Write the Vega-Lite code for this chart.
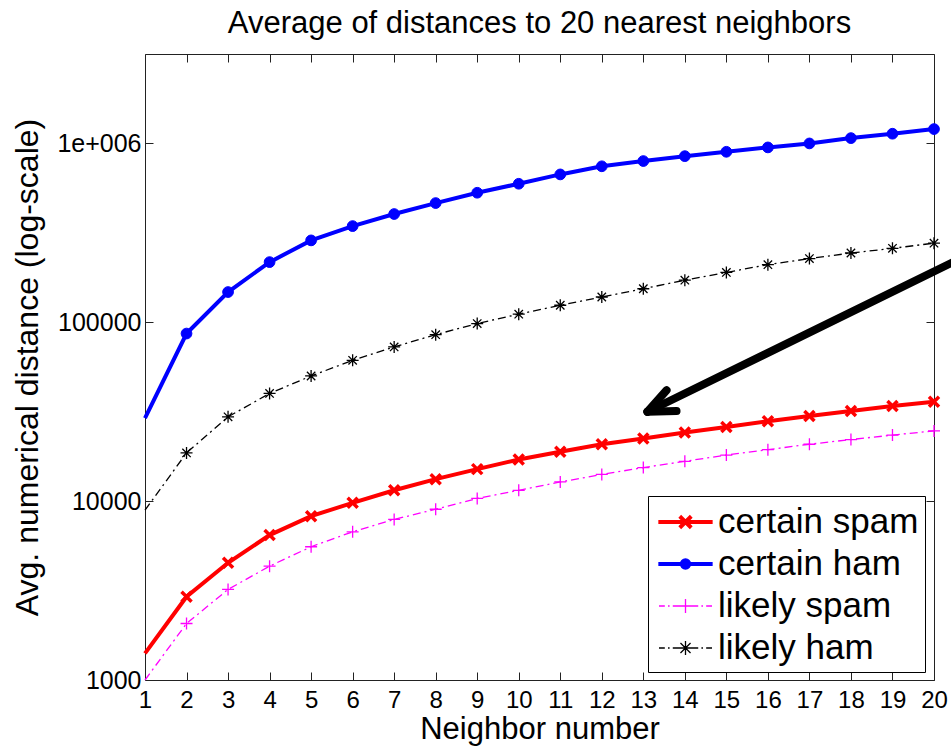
{
  "$schema": "https://vega.github.io/schema/vega-lite/v6.json",
  "autosize": {"type": "none"},
  "padding": {"left": 145, "top": 54, "right": 17, "bottom": 66},
  "width": 789,
  "height": 626,
  "background": "#ffffff",
  "title": {"text": "Average of distances to 20 nearest neighbors", "fontSize": 31, "font": "Liberation Sans", "fontWeight": "normal", "color": "#000000", "anchor": "middle", "offset": 14},
  "datasets": {
    "d": [
      {"n": 1, "series": "certain spam", "v": 1410}, {"n": 2, "series": "certain spam", "v": 2920}, {"n": 3, "series": "certain spam", "v": 4520}, {"n": 4, "series": "certain spam", "v": 6460}, {"n": 5, "series": "certain spam", "v": 8240}, {"n": 6, "series": "certain spam", "v": 9790}, {"n": 7, "series": "certain spam", "v": 11500}, {"n": 8, "series": "certain spam", "v": 13270}, {"n": 9, "series": "certain spam", "v": 15100}, {"n": 10, "series": "certain spam", "v": 17100}, {"n": 11, "series": "certain spam", "v": 18900}, {"n": 12, "series": "certain spam", "v": 20800}, {"n": 13, "series": "certain spam", "v": 22400}, {"n": 14, "series": "certain spam", "v": 24200}, {"n": 15, "series": "certain spam", "v": 26000}, {"n": 16, "series": "certain spam", "v": 28000}, {"n": 17, "series": "certain spam", "v": 29900}, {"n": 18, "series": "certain spam", "v": 31900}, {"n": 19, "series": "certain spam", "v": 34000}, {"n": 20, "series": "certain spam", "v": 35900},
      {"n": 1, "series": "certain ham", "v": 29100}, {"n": 2, "series": "certain ham", "v": 86500}, {"n": 3, "series": "certain ham", "v": 147600}, {"n": 4, "series": "certain ham", "v": 217000}, {"n": 5, "series": "certain ham", "v": 287000}, {"n": 6, "series": "certain ham", "v": 345000}, {"n": 7, "series": "certain ham", "v": 403000}, {"n": 8, "series": "certain ham", "v": 464000}, {"n": 9, "series": "certain ham", "v": 530000}, {"n": 10, "series": "certain ham", "v": 595000}, {"n": 11, "series": "certain ham", "v": 671000}, {"n": 12, "series": "certain ham", "v": 745000}, {"n": 13, "series": "certain ham", "v": 797000}, {"n": 14, "series": "certain ham", "v": 849000}, {"n": 15, "series": "certain ham", "v": 898000}, {"n": 16, "series": "certain ham", "v": 950000}, {"n": 17, "series": "certain ham", "v": 1000000}, {"n": 18, "series": "certain ham", "v": 1071000}, {"n": 19, "series": "certain ham", "v": 1133000}, {"n": 20, "series": "certain ham", "v": 1203000},
      {"n": 1, "series": "likely spam", "v": 1000}, {"n": 2, "series": "likely spam", "v": 2070}, {"n": 3, "series": "likely spam", "v": 3210}, {"n": 4, "series": "likely spam", "v": 4330}, {"n": 5, "series": "likely spam", "v": 5560}, {"n": 6, "series": "likely spam", "v": 6740}, {"n": 7, "series": "likely spam", "v": 7900}, {"n": 8, "series": "likely spam", "v": 9010}, {"n": 9, "series": "likely spam", "v": 10350}, {"n": 10, "series": "likely spam", "v": 11500}, {"n": 11, "series": "likely spam", "v": 12800}, {"n": 12, "series": "likely spam", "v": 14100}, {"n": 13, "series": "likely spam", "v": 15400}, {"n": 14, "series": "likely spam", "v": 16700}, {"n": 15, "series": "likely spam", "v": 18100}, {"n": 16, "series": "likely spam", "v": 19400}, {"n": 17, "series": "likely spam", "v": 20800}, {"n": 18, "series": "likely spam", "v": 22100}, {"n": 19, "series": "likely spam", "v": 23400}, {"n": 20, "series": "likely spam", "v": 24700},
      {"n": 1, "series": "likely ham", "v": 8900}, {"n": 2, "series": "likely ham", "v": 18600}, {"n": 3, "series": "likely ham", "v": 29600}, {"n": 4, "series": "likely ham", "v": 40000}, {"n": 5, "series": "likely ham", "v": 50100}, {"n": 6, "series": "likely ham", "v": 61300}, {"n": 7, "series": "likely ham", "v": 72800}, {"n": 8, "series": "likely ham", "v": 85300}, {"n": 9, "series": "likely ham", "v": 98400}, {"n": 10, "series": "likely ham", "v": 111000}, {"n": 11, "series": "likely ham", "v": 124500}, {"n": 12, "series": "likely ham", "v": 138500}, {"n": 13, "series": "likely ham", "v": 154000}, {"n": 14, "series": "likely ham", "v": 172000}, {"n": 15, "series": "likely ham", "v": 190000}, {"n": 16, "series": "likely ham", "v": 210000}, {"n": 17, "series": "likely ham", "v": 227000}, {"n": 18, "series": "likely ham", "v": 244000}, {"n": 19, "series": "likely ham", "v": 259000}, {"n": 20, "series": "likely ham", "v": 277000}
    ],
    "arrow": [
      {"part": "shaft", "x": 13.1, "y": 31600, "x2": 20.6, "y2": 225000},
      {"part": "barb1", "x": 13.1, "y": 31600, "x2": 13.56, "y2": 41700},
      {"part": "barb2", "x": 13.1, "y": 31600, "x2": 13.8, "y2": 31900}
    ]
  },
  "resolve": {"axis": {"x": "independent", "y": "independent"}},
  "layer": [
    {
      "data": {"name": "d"},
      "transform": [{"filter": "indexof(datum.series, 'certain') == 0"}],
      "mark": {"type": "line", "strokeWidth": 4, "clip": false},
      "encoding": {
        "x": {"field": "n", "type": "quantitative", "scale": {"domain": [1, 20], "nice": false, "zero": false},
          "axis": {"orient": "bottom", "values": [1,2,3,4,5,6,7,8,9,10,11,12,13,14,15,16,17,18,19,20], "tickSize": -8, "labelPadding": 16, "labelFontSize": 24, "labelFlush": false, "labelOverlap": false, "labelBound": false, "domain": false, "grid": false,
            "title": "Neighbor number", "titleFontSize": 31, "titlePadding": 2}},
        "y": {"field": "v", "type": "quantitative", "scale": {"type": "log", "domain": [1000, 3162277.66], "nice": false},
          "axis": {"orient": "left", "values": [1000, 10000, 100000, 1000000], "labelExpr": "datum.value == 1000000 ? '1e+006' : format(datum.value, 'd')", "tickSize": -8, "labelPadding": 12, "labelFontSize": 25, "labelFlush": false, "labelOverlap": false, "labelBound": false, "domain": false, "grid": false,
            "title": "Avg. numerical distance (log-scale)", "titleFontSize": 32, "titlePadding": 12}},
        "color": {"field": "series", "type": "nominal", "scale": {"domain": ["certain ham", "certain spam", "likely ham", "likely spam"], "range": ["#0000ff", "#ff0000", "#000000", "#ff00ff"]}, "legend": null},
        "detail": {"field": "series"}
      }
    },
    {
      "data": {"name": "d"},
      "transform": [{"filter": "indexof(datum.series, 'likely') == 0"}],
      "mark": {"type": "line", "strokeWidth": 1.3, "strokeDash": [8, 4, 2, 4], "clip": false},
      "encoding": {
        "x": {"field": "n", "type": "quantitative", "scale": {"domain": [1, 20], "nice": false, "zero": false},
          "axis": {"orient": "top", "values": [1,2,3,4,5,6,7,8,9,10,11,12,13,14,15,16,17,18,19,20], "tickSize": -8, "labels": false, "domain": false, "grid": false, "title": null}},
        "y": {"field": "v", "type": "quantitative", "scale": {"type": "log", "domain": [1000, 3162277.66], "nice": false},
          "axis": {"orient": "right", "values": [1000, 10000, 100000, 1000000], "tickSize": -8, "labels": false, "domain": false, "grid": false, "title": null}},
        "color": {"field": "series", "type": "nominal", "scale": {"domain": ["certain ham", "certain spam", "likely ham", "likely spam"], "range": ["#0000ff", "#ff0000", "#000000", "#ff00ff"]}, "legend": null},
        "detail": {"field": "series"}
      }
    },
    {
      "data": {"name": "d"},
      "transform": [{"filter": "datum.series == 'certain spam' && datum.n > 1"}],
      "mark": {"type": "point", "shape": "M-1,-1L1,1M-1,1L1,-1", "size": 100, "filled": false, "stroke": "#ff0000", "strokeWidth": 3.5, "opacity": 1, "clip": false},
      "encoding": {
        "x": {"field": "n", "type": "quantitative", "scale": {"domain": [1, 20], "nice": false, "zero": false}, "axis": null},
        "y": {"field": "v", "type": "quantitative", "scale": {"type": "log", "domain": [1000, 3162277.66], "nice": false}, "axis": null}
      }
    },
    {
      "data": {"name": "d"},
      "transform": [{"filter": "datum.series == 'certain ham' && datum.n > 1"}],
      "mark": {"type": "point", "shape": "circle", "size": 115, "filled": true, "fill": "#0000ff", "stroke": "#0000ff", "strokeWidth": 1, "opacity": 1, "clip": false},
      "encoding": {
        "x": {"field": "n", "type": "quantitative", "scale": {"domain": [1, 20], "nice": false, "zero": false}, "axis": null},
        "y": {"field": "v", "type": "quantitative", "scale": {"type": "log", "domain": [1000, 3162277.66], "nice": false}, "axis": null}
      }
    },
    {
      "data": {"name": "d"},
      "transform": [{"filter": "datum.series == 'likely spam' && datum.n > 1"}],
      "mark": {"type": "point", "shape": "M-1,0H1M0,-1V1", "size": 144, "filled": false, "stroke": "#ff00ff", "strokeWidth": 1.3, "opacity": 1, "clip": false},
      "encoding": {
        "x": {"field": "n", "type": "quantitative", "scale": {"domain": [1, 20], "nice": false, "zero": false}, "axis": null},
        "y": {"field": "v", "type": "quantitative", "scale": {"type": "log", "domain": [1000, 3162277.66], "nice": false}, "axis": null}
      }
    },
    {
      "data": {"name": "d"},
      "transform": [{"filter": "datum.series == 'likely ham' && datum.n > 1"}],
      "mark": {"type": "point", "shape": "M-1,0H1M0,-1V1M-0.7,-0.7L0.7,0.7M-0.7,0.7L0.7,-0.7", "size": 144, "filled": false, "stroke": "#000000", "strokeWidth": 1.3, "opacity": 1, "clip": false},
      "encoding": {
        "x": {"field": "n", "type": "quantitative", "scale": {"domain": [1, 20], "nice": false, "zero": false}, "axis": null},
        "y": {"field": "v", "type": "quantitative", "scale": {"type": "log", "domain": [1000, 3162277.66], "nice": false}, "axis": null}
      }
    },
    {
      "data": {"name": "d"},
      "mark": {"type": "point", "filled": true, "opacity": 1, "strokeWidth": 1.3, "size": 0},
      "encoding": {
        "x": {"field": "n", "type": "quantitative", "scale": {"domain": [1, 20], "nice": false, "zero": false}, "axis": null},
        "y": {"field": "v", "type": "quantitative", "scale": {"type": "log", "domain": [1000, 3162277.66], "nice": false}, "axis": null},
        "fill": {"field": "series", "type": "nominal", "scale": {"domain": ["certain spam", "certain ham", "likely spam", "likely ham"], "range": ["#ff0000", "#0000ff", "#ff00ff", "#000000"]}, "legend": {"title": null}},
        "stroke": {"field": "series", "type": "nominal", "scale": {"domain": ["certain spam", "certain ham", "likely spam", "likely ham"], "range": ["#ff0000", "#0000ff", "#ff00ff", "#000000"]}, "legend": {"title": null}},
        "shape": {"field": "series", "type": "nominal", "scale": {"domain": ["certain spam", "certain ham", "likely spam", "likely ham"], "range": [
          "M-1.395,-0.07H1.395V0.07H-1.395ZM-0.23,-0.328L0.328,0.23L0.23,0.328L-0.328,-0.23ZM-0.23,0.328L0.328,-0.23L0.23,-0.328L-0.328,0.23Z",
          "M-1.395,-0.07H1.395V0.07H-1.395ZM0.265,0A0.265,0.265,0,1,1,-0.265,0A0.265,0.265,0,1,1,0.265,0Z",
          "M-1.395,0H-1.088M-0.921,0H-0.837M-0.67,0H0.67M0.837,0H0.921M1.088,0H1.395M0,-0.363V0.363",
          "M-1.395,0H-1.088M-0.921,0H-0.837M-0.67,0H0.67M0.837,0H0.921M1.088,0H1.395M0,-0.363V0.363M-0.265,-0.265L0.265,0.265M-0.265,0.265L0.265,-0.265"
        ]}, "legend": {"title": null}}
      }
    },
    {
      "data": {"name": "arrow"},
      "mark": {"type": "rule", "color": "#000000", "strokeWidth": 8, "strokeCap": "round", "clip": false},
      "encoding": {
        "x": {"field": "x", "type": "quantitative", "scale": {"domain": [1, 20], "nice": false, "zero": false}, "axis": null},
        "y": {"field": "y", "type": "quantitative", "scale": {"type": "log", "domain": [1000, 3162277.66], "nice": false}, "axis": null},
        "x2": {"field": "x2"},
        "y2": {"field": "y2"}
      }
    }
  ],
  "config": {
    "font": "Liberation Sans",
    "view": {"stroke": "#222222", "strokeWidth": 1},
    "axis": {"labelFont": "Liberation Sans", "titleFont": "Liberation Sans", "labelColor": "#000000", "titleColor": "#000000", "tickColor": "#222222", "tickWidth": 1, "titleFontWeight": "normal"},
    "legend": {
      "orient": "none", "legendX": 503, "legendY": 442, "padding": 6, "strokeColor": "#000000", "fillColor": "#ffffff", "cornerRadius": 0,
      "labelFont": "Liberation Sans", "labelFontSize": 35, "labelColor": "#000000", "labelLimit": 400,
      "symbolSize": 1444, "symbolStrokeWidth": 1.3, "symbolOffset": 11.5, "labelOffset": 12.5, "rowPadding": 4
    }
  }
}
